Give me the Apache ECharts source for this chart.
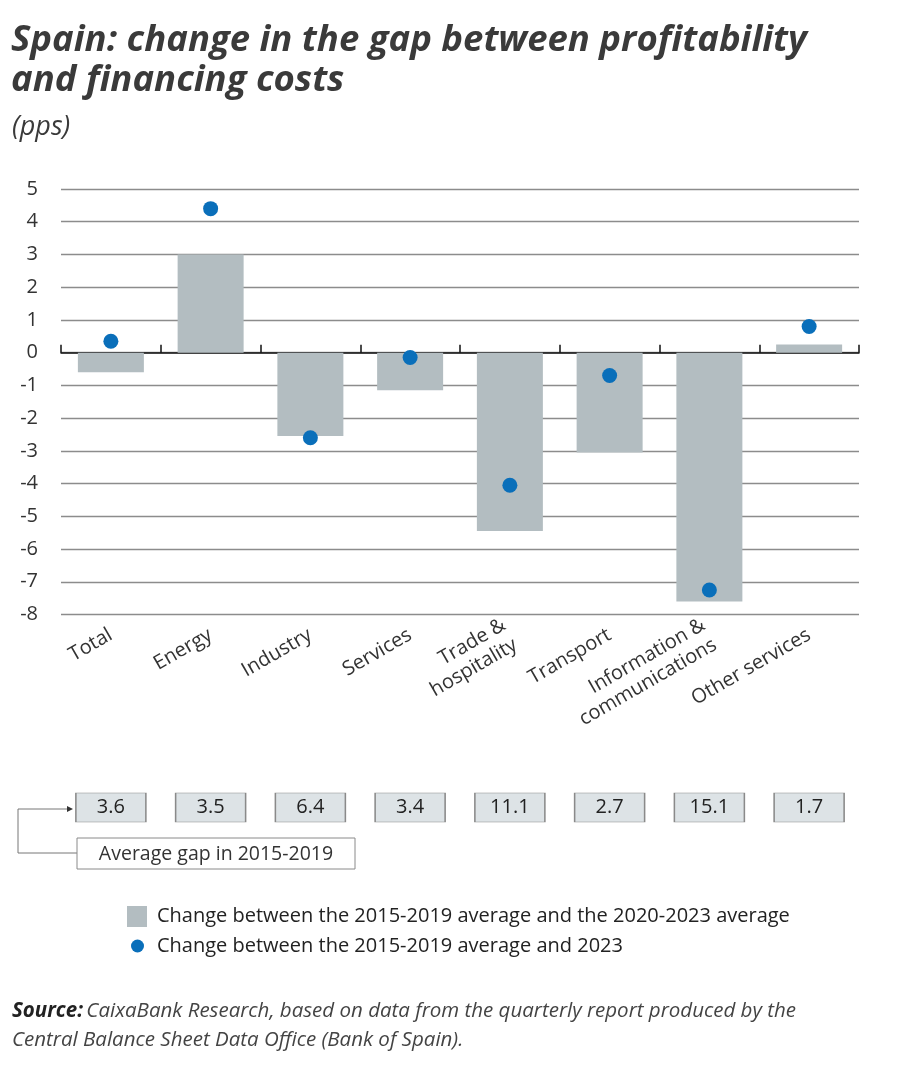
<!DOCTYPE html>
<html><head><meta charset="utf-8">
<script src="https://cdn.jsdelivr.net/npm/echarts@6/dist/echarts.min.js"></script>
<style>html,body{margin:0;padding:0;background:#fff}#c{width:900px;height:1069px}</style>
</head><body><div id="c"></div>
<script>
const categories = ['Total','Energy','Industry','Services','Trade &\nhospitality','Transport','Information &\ncommunications','Other services'];
const barValues = [-0.6, 3.0, -2.55, -1.15, -5.45, -3.05, -7.6, 0.25];
const dotValues = [0.35, 4.4, -2.6, -0.15, -4.05, -0.7, -7.25, 0.8];
const gapValues = [3.6, 3.5, 6.4, 3.4, 11.1, 2.7, 15.1, 1.7];
const yTicks = {min: -8, max: 5, interval: 1};
const barName = 'Change between the 2015-2019 average and the 2020-2023 average';
const dotName = 'Change between the 2015-2019 average and 2023';

const FONT = '"Open Sans", sans-serif';
const TXT = '#333333';
const chart = echarts.init(document.getElementById('c'), null, {renderer: 'canvas'});
chart.setOption({
  animation: false,
  textStyle: {fontFamily: FONT, color: TXT},
  title: [
    {text: 'Spain: change in the gap between profitability\nand financing costs', left: 6, top: 16,
     textStyle: {fontFamily: FONT, fontSize: 36.5, fontWeight: 'bold', fontStyle: 'italic', color: '#3a3a3a', lineHeight: 40}},
    {text: '(pps)', left: 7, top: 109,
     textStyle: {fontFamily: FONT, fontSize: 27, fontWeight: 'normal', fontStyle: 'italic', color: '#3a3a3a'}}
  ],
  grid: [
    {left: 61, right: 41, top: 189, height: 425.5},
    {left: 61, right: 41, top: 793, height: 29}
  ],
  xAxis: [
    {type: 'category', data: categories, gridIndex: 0, position: 'bottom',
     axisLine: {onZero: true, lineStyle: {color: '#111', width: 1.5}},
     axisTick: {show: true, inside: true, length: 8, interval: 0, alignWithLabel: false, lineStyle: {color: '#111', width: 1.5}},
     axisLabel: {show: false, interval: 0}, splitLine: {show: false}},
    {type: 'category', data: categories, gridIndex: 0, position: 'bottom',
     axisLine: {show: false, onZero: false}, axisTick: {show: false},
     axisLabel: {show: true, rotate: 30, margin: 19, fontSize: 20, color: TXT, fontFamily: FONT, lineHeight: 23, interval: 0}},
    {type: 'category', data: categories, gridIndex: 1, show: false}
  ],
  yAxis: [
    {type: 'value', gridIndex: 0, min: yTicks.min, max: yTicks.max, interval: yTicks.interval,
     axisLine: {show: false}, axisTick: {show: false},
     axisLabel: {fontSize: 20, color: TXT, margin: 23, fontFamily: FONT},
     splitLine: {show: true, lineStyle: {color: '#8c8c8c', width: 1.3}}},
    {type: 'category', gridIndex: 1, data: ['gap'], show: false}
  ],
  legend: [
    {data: [{name: barName, icon: 'rect'}], orient: 'vertical', left: 122, top: 901, itemWidth: 20, itemHeight: 21,
     textStyle: {fontSize: 20, color: '#222', fontFamily: FONT, padding: [0,0,0,5]}, selectedMode: false},
    {data: [{name: dotName, icon: 'circle'}], orient: 'vertical', left: 126, top: 931, itemWidth: 13, itemHeight: 13,
     textStyle: {fontSize: 20, color: '#222', fontFamily: FONT, padding: [0,0,0,8]}, selectedMode: false}
  ],
  series: [
    {name: barName, type: 'bar', xAxisIndex: 0, yAxisIndex: 0, data: barValues, barWidth: 66,
     itemStyle: {color: '#b3bdc1'}, z: 2},
    {name: dotName, type: 'scatter', xAxisIndex: 0, yAxisIndex: 0, data: dotValues, symbol: 'circle', symbolSize: 15,
     itemStyle: {color: '#0a6fba', opacity: 1}, z: 5},
    {name: 'gap', type: 'scatter', xAxisIndex: 2, yAxisIndex: 1,
     data: categories.map((c, i) => [c, 'gap', gapValues[i]]),
     symbol: 'rect', symbolSize: [70, 29],
     itemStyle: {color: '#dde3e6', borderColor: '#8a8a8a', borderWidth: 1, opacity: 1},
     label: {show: true, position: 'inside', fontSize: 20, color: '#222', fontFamily: FONT,
             formatter: p => p.value[2].toFixed(1)}}
  ],
  graphic: [
    {type: 'polyline', shape: {points: [[77, 853], [18, 853], [18, 809], [68, 809]]},
     style: {stroke: '#777', lineWidth: 1, fill: null}},
    {type: 'polygon', shape: {points: [[67, 806], [73, 809], [67, 812]]}, style: {fill: '#333'}},
    {type: 'rect', shape: {x: 77, y: 838, width: 278, height: 31},
     style: {fill: '#fff', stroke: '#8a8a8a', lineWidth: 1}},
    {type: 'text', x: 216, y: 854, style: {text: 'Average gap in 2015-2019', fontSize: 19.5, fontFamily: FONT,
     fill: '#333', align: 'center', verticalAlign: 'middle'}},
    {type: 'text', x: 12, y: 997, style: {
      text: '{b|Source:} {i|CaixaBank Research, based on data from the quarterly report produced by the}\n{i|Central Balance Sheet Data Office (Bank of Spain).}',
      rich: {
        b: {fontFamily: FONT, fontSize: 20.5, fontWeight: 'bold', fontStyle: 'italic', fill: '#222', lineHeight: 29},
        i: {fontFamily: FONT, fontSize: 20.5, fontStyle: 'italic', fill: '#444', lineHeight: 29}
      }}}
  ]
});
</script></body></html>
